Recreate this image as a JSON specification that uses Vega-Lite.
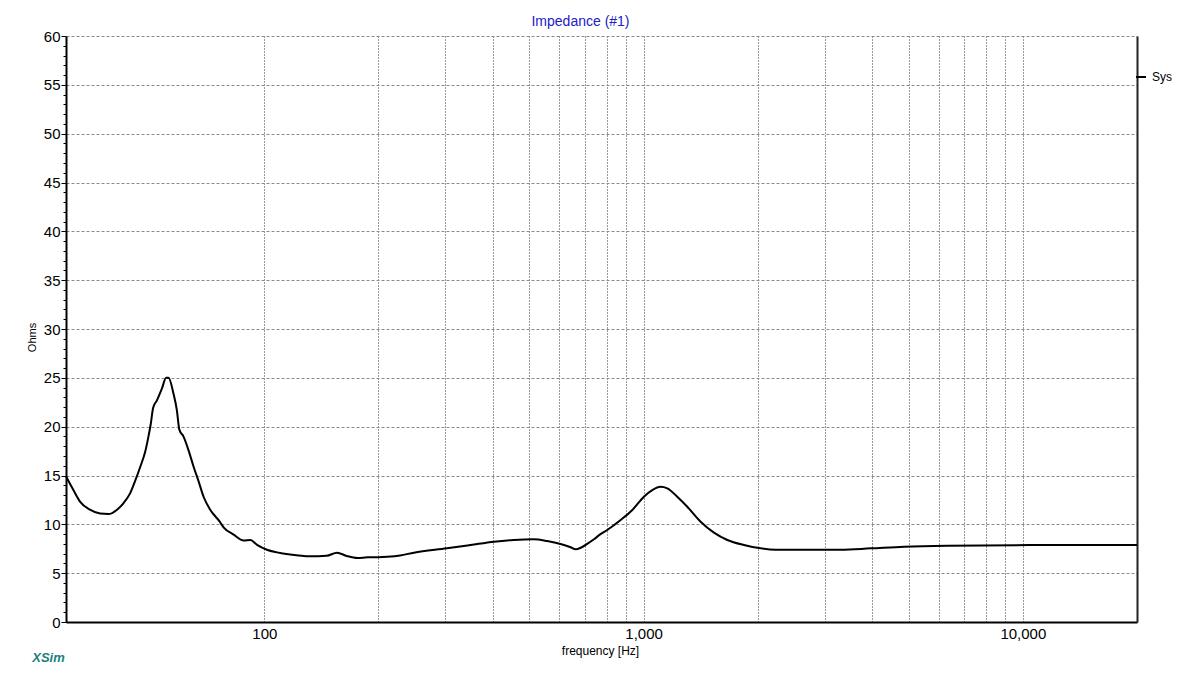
{
  "$schema": "https://vega.github.io/schema/vega-lite/v6.json",
  "width": 1071,
  "height": 586,
  "autosize": {"type": "none"},
  "padding": {"left": 66, "top": 36, "right": 63, "bottom": 57},
  "background": "white",
  "config": {
    "font": "Liberation Sans",
    "view": {"stroke": null},
    "axis": {"labelFont": "Liberation Sans", "titleFont": "Liberation Sans", "labelColor": "black", "titleColor": "black", "titleFontWeight": "normal"}
  },
  "title": {"text": "Impedance (#1)", "color": "#2020c8", "fontSize": 14, "fontWeight": "normal", "font": "Liberation Sans", "dx": -21, "offset": 0},
  "data": {"values": [
    {"freq": 30, "ohms": 14.9, "series": "Sys"},
    {"freq": 31.4, "ohms": 13.5, "series": "Sys"},
    {"freq": 32.7, "ohms": 12.3, "series": "Sys"},
    {"freq": 34.7, "ohms": 11.5, "series": "Sys"},
    {"freq": 36.9, "ohms": 11.1, "series": "Sys"},
    {"freq": 38.8, "ohms": 11.05, "series": "Sys"},
    {"freq": 40.9, "ohms": 11.5, "series": "Sys"},
    {"freq": 42.5, "ohms": 12.15, "series": "Sys"},
    {"freq": 44.3, "ohms": 13.2, "series": "Sys"},
    {"freq": 45.7, "ohms": 14.5, "series": "Sys"},
    {"freq": 47.1, "ohms": 15.9, "series": "Sys"},
    {"freq": 48.5, "ohms": 17.4, "series": "Sys"},
    {"freq": 49.5, "ohms": 19.0, "series": "Sys"},
    {"freq": 50.2, "ohms": 20.3, "series": "Sys"},
    {"freq": 50.9, "ohms": 21.9, "series": "Sys"},
    {"freq": 52.1, "ohms": 22.7, "series": "Sys"},
    {"freq": 53.7, "ohms": 23.9, "series": "Sys"},
    {"freq": 55.1, "ohms": 25.0, "series": "Sys"},
    {"freq": 55.9, "ohms": 25.0, "series": "Sys"},
    {"freq": 57.6, "ohms": 23.4, "series": "Sys"},
    {"freq": 58.8, "ohms": 21.7, "series": "Sys"},
    {"freq": 59.7, "ohms": 19.7, "series": "Sys"},
    {"freq": 61.2, "ohms": 19.0, "series": "Sys"},
    {"freq": 63.1, "ohms": 17.6, "series": "Sys"},
    {"freq": 65.1, "ohms": 15.9, "series": "Sys"},
    {"freq": 67.1, "ohms": 14.4, "series": "Sys"},
    {"freq": 69.2, "ohms": 12.8, "series": "Sys"},
    {"freq": 72.0, "ohms": 11.5, "series": "Sys"},
    {"freq": 76.2, "ohms": 10.3, "series": "Sys"},
    {"freq": 78.1, "ohms": 9.7, "series": "Sys"},
    {"freq": 83.0, "ohms": 8.95, "series": "Sys"},
    {"freq": 88.2, "ohms": 8.35, "series": "Sys"},
    {"freq": 91.9, "ohms": 8.4, "series": "Sys"},
    {"freq": 95.7, "ohms": 7.9, "series": "Sys"},
    {"freq": 101.6, "ohms": 7.4, "series": "Sys"},
    {"freq": 108, "ohms": 7.13, "series": "Sys"},
    {"freq": 117, "ohms": 6.9, "series": "Sys"},
    {"freq": 132, "ohms": 6.72, "series": "Sys"},
    {"freq": 146, "ohms": 6.78, "series": "Sys"},
    {"freq": 155.5, "ohms": 7.1, "series": "Sys"},
    {"freq": 165, "ohms": 6.76, "series": "Sys"},
    {"freq": 176, "ohms": 6.55, "series": "Sys"},
    {"freq": 187, "ohms": 6.62, "series": "Sys"},
    {"freq": 200, "ohms": 6.64, "series": "Sys"},
    {"freq": 211, "ohms": 6.69, "series": "Sys"},
    {"freq": 228, "ohms": 6.82, "series": "Sys"},
    {"freq": 248, "ohms": 7.1, "series": "Sys"},
    {"freq": 303, "ohms": 7.54, "series": "Sys"},
    {"freq": 350, "ohms": 7.88, "series": "Sys"},
    {"freq": 403, "ohms": 8.22, "series": "Sys"},
    {"freq": 455, "ohms": 8.4, "series": "Sys"},
    {"freq": 513, "ohms": 8.47, "series": "Sys"},
    {"freq": 557, "ohms": 8.29, "series": "Sys"},
    {"freq": 604, "ohms": 7.99, "series": "Sys"},
    {"freq": 642, "ohms": 7.65, "series": "Sys"},
    {"freq": 662, "ohms": 7.44, "series": "Sys"},
    {"freq": 685, "ohms": 7.63, "series": "Sys"},
    {"freq": 710, "ohms": 8.0, "series": "Sys"},
    {"freq": 740, "ohms": 8.47, "series": "Sys"},
    {"freq": 770, "ohms": 9.0, "series": "Sys"},
    {"freq": 802, "ohms": 9.42, "series": "Sys"},
    {"freq": 870, "ohms": 10.44, "series": "Sys"},
    {"freq": 934, "ohms": 11.47, "series": "Sys"},
    {"freq": 1002, "ohms": 12.83, "series": "Sys"},
    {"freq": 1054, "ohms": 13.51, "series": "Sys"},
    {"freq": 1109, "ohms": 13.85, "series": "Sys"},
    {"freq": 1155, "ohms": 13.69, "series": "Sys"},
    {"freq": 1227, "ohms": 12.83, "series": "Sys"},
    {"freq": 1304, "ohms": 11.8, "series": "Sys"},
    {"freq": 1414, "ohms": 10.27, "series": "Sys"},
    {"freq": 1533, "ohms": 9.15, "series": "Sys"},
    {"freq": 1663, "ohms": 8.4, "series": "Sys"},
    {"freq": 1840, "ohms": 7.88, "series": "Sys"},
    {"freq": 2036, "ohms": 7.54, "series": "Sys"},
    {"freq": 2230, "ohms": 7.4, "series": "Sys"},
    {"freq": 3310, "ohms": 7.4, "series": "Sys"},
    {"freq": 3971, "ohms": 7.54, "series": "Sys"},
    {"freq": 4862, "ohms": 7.71, "series": "Sys"},
    {"freq": 6329, "ohms": 7.81, "series": "Sys"},
    {"freq": 11620, "ohms": 7.88, "series": "Sys"},
    {"freq": 20000, "ohms": 7.88, "series": "Sys"}
  ]},
  "layer": [
    {
      "mark": {"type": "line", "strokeWidth": 2, "interpolate": "monotone"},
      "encoding": {
        "x": {
          "field": "freq", "type": "quantitative",
          "scale": {"type": "log", "domain": [30, 20000], "nice": false},
          "axis": {
            "values": [100, 200, 300, 400, 500, 600, 700, 800, 900, 1000, 2000, 3000, 4000, 5000, 6000, 7000, 8000, 9000, 10000],
            "labelExpr": "(datum.value == 100 || datum.value == 1000 || datum.value == 10000) ? format(datum.value, ',') : ''",
            "labelOverlap": false, "labelFlush": false,
            "labelFontSize": 15, "labelPadding": 4,
            "ticks": false,
            "domainColor": "black", "domainWidth": 2,
            "grid": true, "gridColor": "#333333", "gridDash": [1, 2], "gridWidth": 1,
            "title": "frequency [Hz]", "titleFontSize": 12,
            "titleX": 534, "titleY": 28, "titleAlign": "center", "titleBaseline": "middle"
          }
        },
        "y": {
          "field": "ohms", "type": "quantitative",
          "scale": {"domain": [0, 60], "nice": false},
          "axis": {
            "values": [0,1,2,3,4,5,6,7,8,9,10,11,12,13,14,15,16,17,18,19,20,21,22,23,24,25,26,27,28,29,30,31,32,33,34,35,36,37,38,39,40,41,42,43,44,45,46,47,48,49,50,51,52,53,54,55,56,57,58,59,60],
            "labelExpr": "datum.value % 5 === 0 ? datum.label : ''",
            "labelOverlap": false, "labelFontSize": 15, "labelPadding": 1,
            "tickColor": "black",
            "tickSize": {"condition": {"test": "datum.value % 5 === 0", "value": 5}, "value": 3},
            "domainColor": "black", "domainWidth": 2,
            "grid": true, "gridColor": "#8a8a8a", "gridDash": [3, 2],
            "gridOpacity": {"condition": {"test": "datum.value % 5 === 0", "value": 1}, "value": 0},
            "title": "Ohms", "titleFontSize": 11,
            "titleX": -34, "titleY": 301, "titleAngle": -90, "titleAlign": "center", "titleBaseline": "middle"
          }
        },
        "color": {
          "field": "series", "type": "nominal",
          "scale": {"range": ["black"]},
          "legend": {
            "orient": "none", "legendX": 1069, "legendY": 35, "title": null,
            "symbolType": "stroke", "symbolSize": 100, "symbolStrokeWidth": 2,
            "labelFontSize": 12, "labelFont": "Liberation Sans", "labelColor": "black", "labelOffset": 5, "padding": 0
          }
        }
      }
    },
    {
      "mark": {"type": "line", "opacity": 0},
      "encoding": {
        "x": {
          "field": "freq", "type": "quantitative",
          "scale": {"type": "log", "domain": [30, 20000], "nice": false},
          "axis": {
            "orient": "bottom", "labels": false, "ticks": false, "domain": false, "grid": false,
            "title": "XSim", "titleColor": "#1e7f7f", "titleFontStyle": "italic", "titleFontWeight": "bold", "titleFontSize": 13,
            "titleX": -18, "titleY": 35, "titleAlign": "center", "titleBaseline": "middle"
          }
        },
        "y": {
          "field": "ohms", "type": "quantitative",
          "scale": {"domain": [0, 60], "nice": false},
          "axis": {
            "orient": "right", "labels": false, "ticks": false, "grid": false,
            "domainColor": "#222222", "domainWidth": 2, "title": null
          }
        }
      }
    }
  ],
  "resolve": {"scale": {"x": "independent", "y": "independent"}, "axis": {"x": "independent", "y": "independent"}}
}
